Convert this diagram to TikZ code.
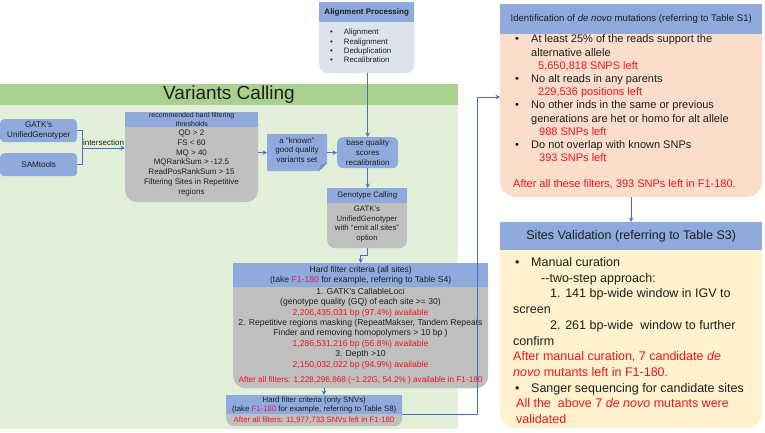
\documentclass[tikz,border=0pt]{standalone}
\usepackage{fontspec}
\setmainfont{Liberation Sans}
\usetikzlibrary{arrows.meta}
\definecolor{hblue}{HTML}{8FAADC}
\definecolor{hbluedk}{HTML}{7391CB}
\definecolor{apbg}{HTML}{DCE2EE}
\definecolor{gdark}{HTML}{A9D18E}
\definecolor{glight}{HTML}{E2F0D9}
\definecolor{gbody}{HTML}{BFBFBF}
\definecolor{peach}{HTML}{FADDCB}
\definecolor{ylw}{HTML}{FFF2CC}
\definecolor{ablue}{HTML}{4472C4}
\definecolor{redtxt}{HTML}{F0141E}
\definecolor{pinktxt}{HTML}{F01464}
\definecolor{txt}{HTML}{1E1E1E}
\newcommand{\rd}[1]{\textcolor{redtxt}{#1}}
\newcommand{\fs}[2]{\fontsize{#1}{#2}\selectfont}
\newcommand{\mybul}{\makebox[18pt][l]{\hspace{2pt}\textbullet}}
\begin{document}
\begin{tikzpicture}[x=1pt,y=-1pt,
  every node/.style={text=txt, inner sep=0pt},
  hdr/.style={anchor=north west, fill=hblue, align=center},
  bod/.style={anchor=north west},
  arr/.style={draw=ablue, line width=0.9pt, -{Stealth[length=4.5pt,width=4.5pt]}},
  conn/.style={draw=ablue, line width=0.9pt}]
\useasboundingbox (0,0) rectangle (765,433);
\fill[white] (0,0) rectangle (765,433);

% ---------- Variants Calling region ----------
\fill[gdark] (0,84) rectangle (458,105);
\fill[glight] (0,105) rectangle (458,429);
\node[font=\fs{19}{23}] (vctitle) at (229,95) {Variants Calling};

% ---------- Alignment Processing ----------
\node[bod, fill=apbg, rounded corners=8pt, minimum width=95pt, minimum height=71pt] (apb) at (319,2) {};
\node[hdr, minimum width=95pt, minimum height=20pt, font=\fs{8}{9}\bfseries] (aph) at (319,2) {Alignment Processing};
\node[anchor=base west, font=\fs{7.8}{9.4}] (apl) at (330,34.8)
  {\begin{tabular}[t]{@{}l@{\hspace{11pt}}l@{}}\textbullet&Alignment\\\textbullet&Realignment\\\textbullet&Deduplication\\\textbullet&Recalibration\end{tabular}};

% ---------- callers ----------
\node[anchor=north west, fill=hblue, rounded corners=4pt, minimum width=77pt, minimum height=23pt, align=center, font=\fs{8.1}{9.5}] (gatk) at (0,119) {GATK's\\UnifiedGenotyper};
\node[anchor=north west, fill=hblue, rounded corners=4pt, minimum width=77pt, minimum height=23pt, font=\fs{8.1}{9.5}] (sam) at (0,153) {SAMtools};
\coordinate (brk) at (82,148);

% ---------- recommended thresholds ----------
\node[bod, fill=gbody, rounded corners=12pt, minimum width=133pt, minimum height=90pt] (recb) at (125,112) {};
\node[hdr, minimum width=133pt, minimum height=15pt, font=\fs{7}{8.8}] (rech) at (125,112) {recommended hard filtering\\thresholds};
\node[align=center, font=\fs{8}{9.7}] (rect) at (191.5,163) {QD > 2\\FS < 60\\MQ > 40\\MQRankSum > -12.5\\ReadPosRankSum > 15\\Filtering Sites in Repetitive\\regions};

% ---------- known variants set ----------
\fill[hblue] (267,134) -- (327,134) -- (327,163) -- (319,171) -- (267,171) -- cycle;
\fill[hbluedk] (327,163) -- (319,171) -- (320.5,164.5) -- cycle;
\node[bod, minimum width=60pt, minimum height=37pt] (ks) at (267,134) {};
\node[align=center, font=\fs{8}{9.6}] (kst) at (297,150) {a “known”\\good quality\\variants set};

% ---------- base quality recalibration ----------
\node[anchor=north west, fill=hblue, rounded corners=6pt, minimum width=61pt, minimum height=31pt, align=center, font=\fs{8}{9.6}] (bq) at (337,137) {base quality\\scores\\recalibration};

% ---------- Genotype calling ----------
\node[bod, fill=gbody, rounded corners=8pt, minimum width=80pt, minimum height=60pt] (gnb) at (327,188) {};
\node[hdr, minimum width=80pt, minimum height=15pt, font=\fs{7.8}{9}] (gnh) at (327,188) {Genotype Calling};
\node[align=center, font=\fs{7.8}{9.7}] (gnt) at (367,224) {GATK's\\UnifiedGenotyper\\with “emit all sites”\\option};

% ---------- Hard filter (all sites) ----------
\node[bod, fill=gbody, rounded corners=12pt, minimum width=255pt, minimum height=125pt] (hdb) at (233,263) {};
\node[hdr, minimum width=255pt, minimum height=24pt, font=\fs{8.6}{10.6}] (hdh) at (233,263) {Hard filter criteria (all sites)\\(take \textcolor{pinktxt}{F1-180} for example, referring to Table S4)};
\node[align=center, font=\fs{8.6}{10.4}] (hdt) at (360.5,328.5) {1. GATK's CallableLoci\\(genotype quality (GQ) of each site >= 30)\\\rd{2,206,435,031 bp (97.4\%) available}\\2. Repetitive regions masking (RepeatMakser, Tandem Repeats\\Finder and removing homopolymers > 10 bp )\\\rd{1,286,531,216 bp (56.8\%) available}\\3. Depth >10\\\rd{2,150,032,022 bp (94.9\%) available}};
\node[font=\fs{8.2}{10}] (hdl) at (360.5,380) {\rd{After all filters: 1,228,296,868 (\textasciitilde1.22G, 54.2\% ) available in F1-180}};

% ---------- Hard filter (only SNVs) ----------
\node[bod, fill=gbody, rounded corners=8pt, minimum width=176pt, minimum height=31pt] (snvb) at (226,395) {};
\node[hdr, minimum width=176pt, minimum height=19pt, font=\fs{7.8}{9.2}] (snvh) at (226,395) {Hard filter criteria (only SNVs)\\(take \textcolor{pinktxt}{F1-180} for example, referring to Table S8)};
\node[font=\fs{7.8}{9.2}] (snvt) at (314,420) {\rd{After all filters: 11,977,733 SNVs left in F1-180}};

% ---------- Identification ----------
\node[bod, fill=peach, rounded corners=16pt, minimum width=262pt, minimum height=193pt] (idb) at (500,4) {};
\node[hdr, minimum width=262pt, minimum height=30pt, font=\fs{9.6}{11}] (idh) at (500,4) {Identification of \textit{de novo} mutations (referring to Table S1)};
\node[anchor=base west, font=\fs{11}{13.2}] (idl) at (513,43)
 {\begin{tabular}[t]{@{}l@{}}
 \mybul At least 25\% of the reads support the\\
 \hspace{18pt}alternative allele\\
 \hspace{25pt}\rd{5,650,818 SNPS left}\\
 \mybul No alt reads in any parents\\
 \hspace{25pt}\rd{229,536 positions left}\\
 \mybul No other inds in the same or previous\\
 \hspace{18pt}generations are het or homo for alt allele\\
 \hspace{26pt}\rd{988 SNPs left}\\
 \mybul Do not overlap with known SNPs\\
 \hspace{26pt}\rd{393 SNPs left}
 \end{tabular}};
\node[anchor=base west, font=\fs{11}{13.2}] (idlast) at (513,187) {\rd{After all these filters, 393 SNPs left in F1-180.}};

% ---------- Sites Validation ----------
\node[bod, fill=ylw, rounded corners=16pt, minimum width=262pt, minimum height=206pt] (vab) at (500,222) {};
\node[hdr, minimum width=262pt, minimum height=28pt, font=\fs{12.5}{14}] (vah) at (500,222) {Sites Validation (referring to Table S3)};
\node[anchor=base west, font=\fs{12.5}{15.7}] (val) at (513,266.5)
 {\begin{tabular}[t]{@{}l@{}}
 \mybul Manual curation\\
 \hspace{28pt}-{}-two-step approach:\\
 \hspace{37pt}1. 141 bp-wide window in IGV to\\
 screen\\
 \hspace{37pt}2. 261 bp-wide\ \ window to further\\
 confirm\\
 \rd{After manual curation, 7 candidate \textit{de}}\\
 \rd{\textit{novo} mutants left in F1-180.}\\
 \mybul Sanger sequencing for candidate sites\\
 \hspace{3pt}\rd{All the\ \ above 7 \textit{de novo} mutants were}\\
 \hspace{3pt}\rd{validated}
 \end{tabular}};

% ---------- connectors ----------
\draw[arr] (bq.north |- apb.south) -- (bq.north);
\draw[conn] (gatk.east) -- (gatk.east -| brk) -- (sam.east -| brk) -- (sam.east);
\draw[arr] (brk) -- (brk -| recb.west) node[midway, above=1.5pt, font=\fs{8}{9}] (isect) {intersection};
\draw[arr] (recb.east |- ks.west) -- (ks.west);
\draw[arr] (ks.east) -- (ks.east -| bq.west);
\draw[arr] (bq.south) -- (bq.south |- gnh.north);
\draw[arr] (gnb.south) -- ++(0,7) -| (hdh.north);
\coordinate (snvx) at (324,0);
\draw[arr] (hdb.south -| snvx) -- (snvh.north -| snvx);
\coordinate (bend) at (477,97);
\draw[arr] (snvh.south east) -| (bend) -- (idb.west |- bend);
\draw[arr] (idb.south) -- (vah.north);
\end{tikzpicture}
\end{document}
